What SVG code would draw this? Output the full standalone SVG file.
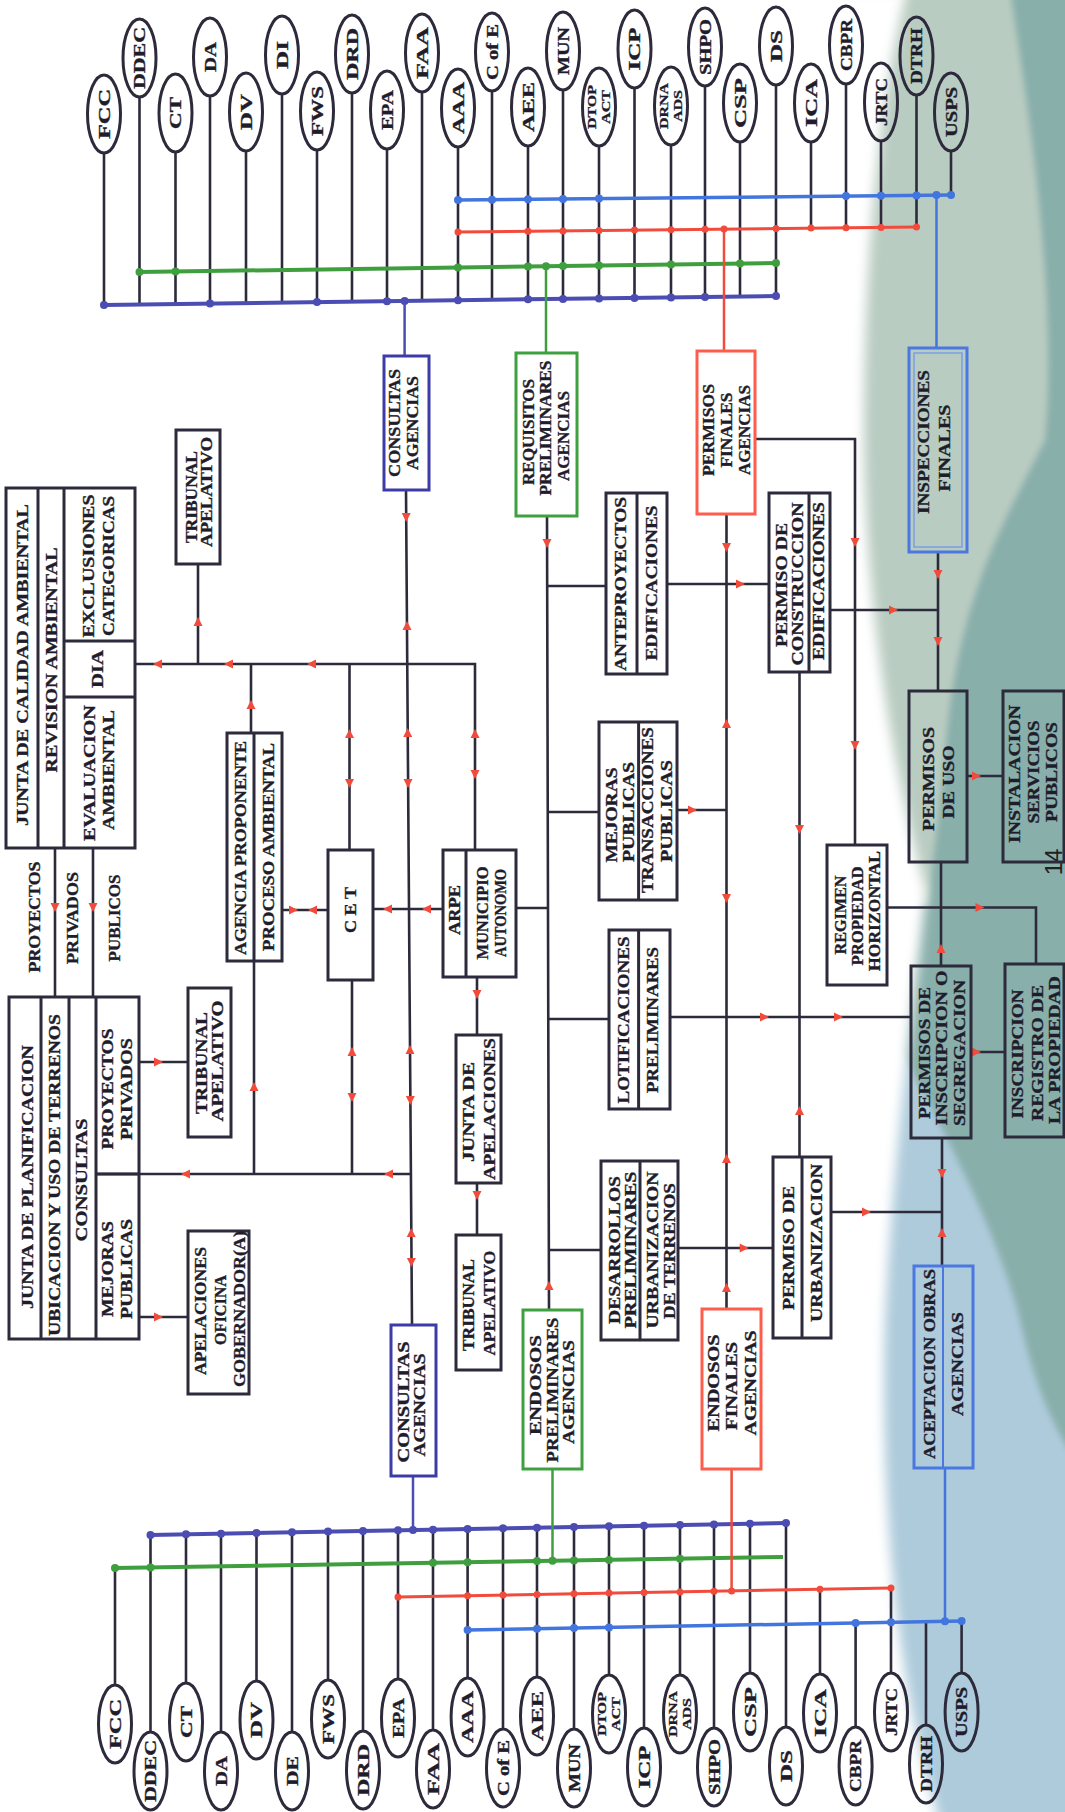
<svg xmlns="http://www.w3.org/2000/svg" xmlns:xlink="http://www.w3.org/1999/xlink" width="1065" height="1812" viewBox="0 0 1065 1812">
<style>
.bx{fill:none;stroke:#2d2b3b;stroke-width:3}
.ln{fill:none;stroke:#2d2b3b;stroke-width:2.6}
.el{fill:none;stroke:#2d2b3b;stroke-width:3}
.t{font-family:"Liberation Serif","DejaVu Serif",serif;font-weight:bold;font-size:16px;text-anchor:middle;fill:#1f1d2b;stroke:#1f1d2b;stroke-width:0.35}
.s{font-family:"Liberation Serif","DejaVu Serif",serif;font-weight:bold;font-size:13px;text-anchor:middle;fill:#1f1d2b;stroke:#1f1d2b;stroke-width:0.3}
.pu{fill:none;stroke:#4b4db3;stroke-width:4}
.gr{fill:none;stroke:#3f9f3f;stroke-width:4}
.rd{fill:none;stroke:#f24b3c;stroke-width:3}
.bl{fill:none;stroke:#4275dd;stroke-width:3.5}
.dpu{fill:#4b4db3}.dgr{fill:#3f9f3f}.drd{fill:#f24b3c}.dbl{fill:#4275dd}
.bpu{fill:none;stroke:#3c3ca8;stroke-width:3}
.bgr{fill:none;stroke:#3fa03f;stroke-width:3}
.brd{fill:none;stroke:#ff5c4c;stroke-width:3}
.bbl{fill:none;stroke:#4a78e0;stroke-width:3}
</style>
<defs>
<path id="ar" d="M5,0 L-4,-4.5 L-4,4.5 Z" fill="#f24b3c"/>
<filter id="soft" x="-0.1" y="-0.1" width="1.2" height="1.2"><feGaussianBlur stdDeviation="6"/></filter>
<filter id="soft2" x="-0.1" y="-0.1" width="1.2" height="1.2"><feGaussianBlur stdDeviation="3"/></filter>
</defs>
<g id="background">
<rect x="0" y="0" width="1065" height="1812" fill="#ffffff"/>
<rect x="840" y="0" width="225" height="1812" fill="#89afab"/>
<path d="M840,-10 L1010,-10 C1030,120 1058,300 1045,440 C1005,520 955,600 945,760 C938,820 932,870 928,905 L840,905 Z" fill="#b9ccc1" filter="url(#soft2)"/>
<path d="M840,1030 L900,1050 C950,1140 1000,1240 1020,1320 C1035,1385 1050,1420 1075,1460 L1075,1822 L840,1822 Z" fill="#aecbdb" filter="url(#soft2)"/>
<path d="M-10,-10 L907,-10 C880,100 864,250 864,430 C864,620 900,800 926,890 C915,1000 893,1150 885,1320 C880,1500 895,1680 940,1822 L-10,1822 Z" fill="#ffffff" filter="url(#soft)"/>
<text transform="translate(1062,862) rotate(-90)" font-family="Liberation Sans, Arial, sans-serif" font-size="24" text-anchor="middle" fill="#222">14</text>
</g>
<g id="connectors">
<path class="ln" d="M104,153V305 M139.5,97V304.5 M175.5,152V304 M210,96V303.6 M246,151V303.1 M282,94V302.6 M317,150V302.1 M352,93V301.7 M387,149V301.2 M422,92V300.7 M458,147V300.3 M492,91V299.8 M528,146V299.3 M563,90V298.9 M599,146V298.4 M634.5,88V297.9 M671,145V297.4 M705,86V297 M740,142V296.5 M776,85V296 M811,142V228.1 M846,84V227.8 M881,141V227.4 M916.5,95V227 M951,151V195"/>
<path class="ln" d="M115,1685V1568 M150.5,1732V1535 M186,1683V1534.3 M221,1732V1533.7 M256.5,1681V1533 M292,1732V1532.3 M328,1680V1531.6 M363,1731V1531 M398,1679V1530.3 M433,1730V1529.7 M467.6,1678V1529 M503,1729V1528.3 M537,1677V1527.7 M574,1729V1527 M609,1675V1526.3 M644,1728V1525.7 M680,1675V1525 M714,1728V1524.4 M750,1673V1523.7 M786,1727V1523 M820,1674V1589.3 M855.6,1727V1622.9 M891,1673V1588 M926,1725V1621.7 M961.6,1673V1621"/>
<path class="bl" d="M458,200 L951,195"/>
<path class="rd" d="M458,232 L916,227"/>
<path class="gr" d="M139.5,272 L776,263"/>
<path class="pu" d="M104,305 L776,296"/>
<path class="pu" d="M150.5,1535 L786,1523"/>
<path class="gr" d="M115,1568 L783,1557"/>
<path class="rd" d="M398,1597 L891,1588"/>
<path class="bl" d="M467.6,1630 L962,1621"/>
<path class="pu" d="M404.6,301V356" style="stroke-width:2.5"/>
<path class="gr" d="M546,266V353" style="stroke-width:2.5"/>
<path class="rd" d="M724,229V351" style="stroke-width:2.5"/>
<path class="bl" d="M936.5,195V348" style="stroke-width:2.5"/>
<path class="pu" d="M413,1476V1530" style="stroke-width:2.5"/>
<path class="gr" d="M552.5,1469V1561" style="stroke-width:2.5"/>
<path class="rd" d="M731.6,1469V1591" style="stroke-width:2.5"/>
<path class="bl" d="M945,1468V1621" style="stroke-width:2.5"/>
<g class="dpu">
<circle cx="104" cy="305" r="4"/><circle cx="210" cy="303.6" r="4"/><circle cx="317" cy="302.1" r="4"/><circle cx="387" cy="301.2" r="4"/><circle cx="404.6" cy="301" r="4"/><circle cx="458" cy="300.3" r="4"/><circle cx="528" cy="299.3" r="4"/><circle cx="563" cy="298.9" r="4"/><circle cx="599" cy="298.4" r="4"/><circle cx="634.5" cy="297.9" r="4"/><circle cx="671" cy="297.4" r="4"/><circle cx="705" cy="297" r="4"/><circle cx="776" cy="296" r="4"/>
<circle cx="150.5" cy="1535" r="4"/><circle cx="186" cy="1534.3" r="4"/><circle cx="221" cy="1533.7" r="4"/><circle cx="256.5" cy="1533" r="4"/><circle cx="292" cy="1532.3" r="4"/><circle cx="328" cy="1531.6" r="4"/><circle cx="363" cy="1531" r="4"/><circle cx="398" cy="1530.3" r="4"/><circle cx="413" cy="1530" r="4"/><circle cx="433" cy="1529.7" r="4"/><circle cx="467.6" cy="1529" r="4"/><circle cx="503" cy="1528.3" r="4"/><circle cx="537" cy="1527.7" r="4"/><circle cx="574" cy="1527" r="4"/><circle cx="609" cy="1526.3" r="4"/><circle cx="644" cy="1525.7" r="4"/><circle cx="680" cy="1525" r="4"/><circle cx="714" cy="1524.4" r="4"/><circle cx="750" cy="1523.7" r="4"/><circle cx="786" cy="1523" r="4"/>
</g>
<g class="dgr">
<circle cx="139.5" cy="272" r="4"/><circle cx="175.5" cy="271.5" r="4"/><circle cx="458" cy="267.5" r="4"/><circle cx="528" cy="266.5" r="4"/><circle cx="546" cy="266.2" r="4"/><circle cx="563" cy="266" r="4"/><circle cx="599" cy="265.5" r="4"/><circle cx="671" cy="264.5" r="4"/><circle cx="740" cy="263.5" r="4"/><circle cx="776" cy="263" r="4"/>
<circle cx="115" cy="1568" r="4"/><circle cx="150.5" cy="1567.4" r="4"/><circle cx="433" cy="1562.8" r="4"/><circle cx="467.6" cy="1562.2" r="4"/><circle cx="537" cy="1561.1" r="4"/><circle cx="552.5" cy="1560.8" r="4"/><circle cx="574" cy="1560.5" r="4"/><circle cx="609" cy="1559.9" r="4"/><circle cx="680" cy="1558.8" r="4"/>
</g>
<g class="drd">
<circle cx="458" cy="232" r="3.5"/><circle cx="528" cy="231.2" r="3.5"/><circle cx="563" cy="230.9" r="3.5"/><circle cx="599" cy="230.5" r="3.5"/><circle cx="634.5" cy="230.1" r="3.5"/><circle cx="671" cy="229.7" r="3.5"/><circle cx="705" cy="229.3" r="3.5"/><circle cx="724" cy="229.1" r="3.5"/><circle cx="776" cy="228.5" r="3.5"/><circle cx="811" cy="228.1" r="3.5"/><circle cx="846" cy="227.8" r="3.5"/><circle cx="881" cy="227.4" r="3.5"/><circle cx="916.5" cy="227" r="3.5"/>
<circle cx="398" cy="1597" r="3.5"/><circle cx="467.6" cy="1595.7" r="3.5"/><circle cx="503" cy="1595.1" r="3.5"/><circle cx="537" cy="1594.5" r="3.5"/><circle cx="574" cy="1593.8" r="3.5"/><circle cx="609" cy="1593.1" r="3.5"/><circle cx="644" cy="1592.5" r="3.5"/><circle cx="680" cy="1591.9" r="3.5"/><circle cx="714" cy="1591.2" r="3.5"/><circle cx="731.6" cy="1590.9" r="3.5"/><circle cx="820" cy="1589.3" r="3.5"/><circle cx="891" cy="1588" r="3.5"/>
</g>
<g class="dbl">
<circle cx="458" cy="200" r="4"/><circle cx="492" cy="199.7" r="4"/><circle cx="528" cy="199.3" r="4"/><circle cx="563" cy="198.9" r="4"/><circle cx="599" cy="198.6" r="4"/><circle cx="846" cy="196.1" r="4"/><circle cx="881" cy="195.7" r="4"/><circle cx="916.5" cy="195.4" r="4"/><circle cx="936.5" cy="195.1" r="4"/><circle cx="951" cy="195" r="4"/>
<circle cx="467.6" cy="1630" r="4"/><circle cx="537" cy="1628.7" r="4"/><circle cx="574" cy="1628.1" r="4"/><circle cx="609" cy="1627.4" r="4"/><circle cx="855.6" cy="1622.9" r="4"/><circle cx="891" cy="1622.3" r="4"/><circle cx="945" cy="1621.3" r="4"/><circle cx="961.6" cy="1621" r="4"/>
</g>
<path class="ln" d="M135,664H475V850 M198,564V664 M251,664V733 M349.5,664V850 M406,490L412,1325 M55,848V997 M93,848V997 M282,910H328 M373,909H443 M516,908H548 M139,1062H188 M139,1317H188 M96,1174H411 M254,961V1174 M352,980V1174 M477,977V1035 M477,1183V1235"/>
<path class="ln" d="M547,516L549,1310 M547,586H606 M547,812H599 M548,1019H609 M548,1250H601 M726.5,514V1309 M667,584H769 M830,610H938 M755,439H855V845 M799.5,672V1157 M677,810H726.5 M938,552V691 M967,776H1003 M941,862V966 M887,907.5H1036V964 M670,1017H911 M971,1052H1005 M942,1138V1266 M831,1212H942 M678,1248H773"/>
<use xlink:href="#ar" transform="translate(158,664) rotate(180)"/>
<use xlink:href="#ar" transform="translate(229,664) rotate(180)"/>
<use xlink:href="#ar" transform="translate(312,664) rotate(180)"/>
<use xlink:href="#ar" transform="translate(198,622) rotate(270)"/>
<use xlink:href="#ar" transform="translate(251,705) rotate(270)"/>
<use xlink:href="#ar" transform="translate(349.5,734) rotate(270)"/>
<use xlink:href="#ar" transform="translate(349.5,783) rotate(90)"/>
<use xlink:href="#ar" transform="translate(406.2,517) rotate(90)"/>
<use xlink:href="#ar" transform="translate(407,626) rotate(270)"/>
<use xlink:href="#ar" transform="translate(407.7,733) rotate(270)"/>
<use xlink:href="#ar" transform="translate(408,783) rotate(90)"/>
<use xlink:href="#ar" transform="translate(410,1050) rotate(270)"/>
<use xlink:href="#ar" transform="translate(410.3,1100) rotate(90)"/>
<use xlink:href="#ar" transform="translate(411.2,1233) rotate(270)"/>
<use xlink:href="#ar" transform="translate(411.4,1262) rotate(90)"/>
<use xlink:href="#ar" transform="translate(475,734) rotate(270)"/>
<use xlink:href="#ar" transform="translate(475,774) rotate(90)"/>
<use xlink:href="#ar" transform="translate(55,907) rotate(90)"/>
<use xlink:href="#ar" transform="translate(93,907) rotate(90)"/>
<use xlink:href="#ar" transform="translate(293,910)"/>
<use xlink:href="#ar" transform="translate(313,910) rotate(180)"/>
<use xlink:href="#ar" transform="translate(388,909) rotate(180)"/>
<use xlink:href="#ar" transform="translate(427,909) rotate(180)"/>
<use xlink:href="#ar" transform="translate(158,1062)"/>
<use xlink:href="#ar" transform="translate(158,1317)"/>
<use xlink:href="#ar" transform="translate(186,1174) rotate(180)"/>
<use xlink:href="#ar" transform="translate(389,1174) rotate(180)"/>
<use xlink:href="#ar" transform="translate(254,1087) rotate(270)"/>
<use xlink:href="#ar" transform="translate(352,1052) rotate(270)"/>
<use xlink:href="#ar" transform="translate(352,1097) rotate(90)"/>
<use xlink:href="#ar" transform="translate(477,994) rotate(90)"/>
<use xlink:href="#ar" transform="translate(477,1195) rotate(90)"/>
<use xlink:href="#ar" transform="translate(547,543) rotate(90)"/>
<use xlink:href="#ar" transform="translate(549,1286) rotate(270)"/>
<use xlink:href="#ar" transform="translate(726.5,547) rotate(90)"/>
<use xlink:href="#ar" transform="translate(726.5,724) rotate(270)"/>
<use xlink:href="#ar" transform="translate(726.5,898) rotate(90)"/>
<use xlink:href="#ar" transform="translate(726.5,1159) rotate(270)"/>
<use xlink:href="#ar" transform="translate(726.5,1288) rotate(270)"/>
<use xlink:href="#ar" transform="translate(740,584)"/>
<use xlink:href="#ar" transform="translate(893,610)"/>
<use xlink:href="#ar" transform="translate(855,542) rotate(90)"/>
<use xlink:href="#ar" transform="translate(855,745) rotate(90)"/>
<use xlink:href="#ar" transform="translate(799.5,829) rotate(90)"/>
<use xlink:href="#ar" transform="translate(799.5,1111) rotate(270)"/>
<use xlink:href="#ar" transform="translate(692,810)"/>
<use xlink:href="#ar" transform="translate(938,574) rotate(90)"/>
<use xlink:href="#ar" transform="translate(938,641) rotate(90)"/>
<use xlink:href="#ar" transform="translate(976,776)"/>
<use xlink:href="#ar" transform="translate(941,949) rotate(270)"/>
<use xlink:href="#ar" transform="translate(979.5,907.5)"/>
<use xlink:href="#ar" transform="translate(764,1017)"/>
<use xlink:href="#ar" transform="translate(838,1017)"/>
<use xlink:href="#ar" transform="translate(976,1052)"/>
<use xlink:href="#ar" transform="translate(942,1173) rotate(90)"/>
<use xlink:href="#ar" transform="translate(942,1233) rotate(270)"/>
<use xlink:href="#ar" transform="translate(866,1212)"/>
<use xlink:href="#ar" transform="translate(743.7,1248)"/>
</g>
<g id="agencies-top">
<g id="t-FCC"><ellipse class="el" cx="104" cy="114" rx="16.5" ry="39"/><text class="t" transform="translate(109.5,114) rotate(-90)" textLength="50" lengthAdjust="spacingAndGlyphs">FCC</text></g>
<g id="t-DDEC"><ellipse class="el" cx="139.5" cy="58" rx="16.5" ry="39"/><text class="t" transform="translate(145,58) rotate(-90)" textLength="62" lengthAdjust="spacingAndGlyphs">DDEC</text></g>
<g id="t-CT"><ellipse class="el" cx="175.5" cy="113" rx="16.5" ry="39"/><text class="t" transform="translate(181,113) rotate(-90)" textLength="32" lengthAdjust="spacingAndGlyphs">CT</text></g>
<g id="t-DA"><ellipse class="el" cx="210" cy="57" rx="16.5" ry="39"/><text class="t" transform="translate(215.5,57) rotate(-90)" textLength="30" lengthAdjust="spacingAndGlyphs">DA</text></g>
<g id="t-DV"><ellipse class="el" cx="246" cy="112" rx="16.5" ry="39"/><text class="t" transform="translate(251.5,112) rotate(-90)" textLength="36" lengthAdjust="spacingAndGlyphs">DV</text></g>
<g id="t-DI"><ellipse class="el" cx="282" cy="55" rx="16.5" ry="39"/><text class="t" transform="translate(287.5,55) rotate(-90)" textLength="28" lengthAdjust="spacingAndGlyphs">DI</text></g>
<g id="t-FWS"><ellipse class="el" cx="317" cy="111" rx="16.5" ry="39"/><text class="t" transform="translate(322.5,111) rotate(-90)" textLength="50" lengthAdjust="spacingAndGlyphs">FWS</text></g>
<g id="t-DRD"><ellipse class="el" cx="352" cy="54" rx="16.5" ry="39"/><text class="t" transform="translate(357.5,54) rotate(-90)" textLength="52" lengthAdjust="spacingAndGlyphs">DRD</text></g>
<g id="t-EPA"><ellipse class="el" cx="387" cy="110" rx="16.5" ry="39"/><text class="t" transform="translate(392.5,110) rotate(-90)" textLength="40" lengthAdjust="spacingAndGlyphs">EPA</text></g>
<g id="t-FAA"><ellipse class="el" cx="422" cy="53" rx="16.5" ry="39"/><text class="t" transform="translate(427.5,53) rotate(-90)" textLength="52" lengthAdjust="spacingAndGlyphs">FAA</text></g>
<g id="t-AAA"><ellipse class="el" cx="458" cy="108" rx="16.5" ry="39"/><text class="t" transform="translate(463.5,108) rotate(-90)" textLength="52" lengthAdjust="spacingAndGlyphs">AAA</text></g>
<g id="t-CofE"><ellipse class="el" cx="492" cy="52" rx="16.5" ry="39"/><text class="t" transform="translate(497.5,52) rotate(-90)" textLength="56" lengthAdjust="spacingAndGlyphs">C of E</text></g>
<g id="t-AEE"><ellipse class="el" cx="528" cy="107" rx="16.5" ry="39"/><text class="t" transform="translate(533.5,107) rotate(-90)" textLength="50" lengthAdjust="spacingAndGlyphs">AEE</text></g>
<g id="t-MUN"><ellipse class="el" cx="563" cy="51" rx="16.5" ry="39"/><text class="t" transform="translate(568.5,51) rotate(-90)" textLength="48" lengthAdjust="spacingAndGlyphs">MUN</text></g>
<g id="t-DTOP"><ellipse class="el" cx="599" cy="107" rx="16.5" ry="39"/><text class="s" transform="translate(596,107) rotate(-90)" textLength="44" lengthAdjust="spacingAndGlyphs">DTOP</text><text class="s" transform="translate(610,107) rotate(-90)" textLength="34" lengthAdjust="spacingAndGlyphs">ACT</text></g>
<g id="t-ICP"><ellipse class="el" cx="634.5" cy="49" rx="16.5" ry="39"/><text class="t" transform="translate(640,49) rotate(-90)" textLength="43" lengthAdjust="spacingAndGlyphs">ICP</text></g>
<g id="t-DRNA"><ellipse class="el" cx="671" cy="106" rx="16.5" ry="39"/><text class="s" transform="translate(668,106) rotate(-90)" textLength="46" lengthAdjust="spacingAndGlyphs">DRNA</text><text class="s" transform="translate(682,106) rotate(-90)" textLength="32" lengthAdjust="spacingAndGlyphs">ADS</text></g>
<g id="t-SHPO"><ellipse class="el" cx="705" cy="47" rx="16.5" ry="39"/><text class="t" transform="translate(710.5,47) rotate(-90)" textLength="56" lengthAdjust="spacingAndGlyphs">SHPO</text></g>
<g id="t-CSP"><ellipse class="el" cx="740" cy="103" rx="16.5" ry="39"/><text class="t" transform="translate(745.5,103) rotate(-90)" textLength="50" lengthAdjust="spacingAndGlyphs">CSP</text></g>
<g id="t-DS"><ellipse class="el" cx="776" cy="46" rx="16.5" ry="39"/><text class="t" transform="translate(781.5,46) rotate(-90)" textLength="32" lengthAdjust="spacingAndGlyphs">DS</text></g>
<g id="t-ICA"><ellipse class="el" cx="811" cy="103" rx="16.5" ry="39"/><text class="t" transform="translate(816.5,103) rotate(-90)" textLength="48" lengthAdjust="spacingAndGlyphs">ICA</text></g>
<g id="t-CBPR"><ellipse class="el" cx="846" cy="45" rx="16.5" ry="39"/><text class="t" transform="translate(851.5,45) rotate(-90)" textLength="52" lengthAdjust="spacingAndGlyphs">CBPR</text></g>
<g id="t-JRTC"><ellipse class="el" cx="881" cy="102" rx="16.5" ry="39"/><text class="t" transform="translate(886.5,102) rotate(-90)" textLength="48" lengthAdjust="spacingAndGlyphs">JRTC</text></g>
<g id="t-DTRH"><ellipse class="el" cx="916.5" cy="56" rx="16.5" ry="39"/><text class="t" transform="translate(922,56) rotate(-90)" textLength="56" lengthAdjust="spacingAndGlyphs">DTRH</text></g>
<g id="t-USPS"><ellipse class="el" cx="951" cy="112" rx="16.5" ry="39"/><text class="t" transform="translate(956.5,112) rotate(-90)" textLength="50" lengthAdjust="spacingAndGlyphs">USPS</text></g>
</g>
<g id="agencies-bottom">
<g id="b-FCC"><ellipse class="el" cx="115" cy="1724" rx="16.5" ry="39"/><text class="t" transform="translate(120.5,1724) rotate(-90)" textLength="50" lengthAdjust="spacingAndGlyphs">FCC</text></g>
<g id="b-DDEC"><ellipse class="el" cx="150.5" cy="1771" rx="16.5" ry="39"/><text class="t" transform="translate(156,1771) rotate(-90)" textLength="62" lengthAdjust="spacingAndGlyphs">DDEC</text></g>
<g id="b-CT"><ellipse class="el" cx="186" cy="1722" rx="16.5" ry="39"/><text class="t" transform="translate(191.5,1722) rotate(-90)" textLength="32" lengthAdjust="spacingAndGlyphs">CT</text></g>
<g id="b-DA"><ellipse class="el" cx="221" cy="1771" rx="16.5" ry="39"/><text class="t" transform="translate(226.5,1771) rotate(-90)" textLength="30" lengthAdjust="spacingAndGlyphs">DA</text></g>
<g id="b-DV"><ellipse class="el" cx="256.5" cy="1720" rx="16.5" ry="39"/><text class="t" transform="translate(262,1720) rotate(-90)" textLength="36" lengthAdjust="spacingAndGlyphs">DV</text></g>
<g id="b-DE"><ellipse class="el" cx="292" cy="1771" rx="16.5" ry="39"/><text class="t" transform="translate(297.5,1771) rotate(-90)" textLength="30" lengthAdjust="spacingAndGlyphs">DE</text></g>
<g id="b-FWS"><ellipse class="el" cx="328" cy="1719" rx="16.5" ry="39"/><text class="t" transform="translate(333.5,1719) rotate(-90)" textLength="50" lengthAdjust="spacingAndGlyphs">FWS</text></g>
<g id="b-DRD"><ellipse class="el" cx="363" cy="1770" rx="16.5" ry="39"/><text class="t" transform="translate(368.5,1770) rotate(-90)" textLength="52" lengthAdjust="spacingAndGlyphs">DRD</text></g>
<g id="b-EPA"><ellipse class="el" cx="398" cy="1718" rx="16.5" ry="39"/><text class="t" transform="translate(403.5,1718) rotate(-90)" textLength="40" lengthAdjust="spacingAndGlyphs">EPA</text></g>
<g id="b-FAA"><ellipse class="el" cx="433" cy="1769" rx="16.5" ry="39"/><text class="t" transform="translate(438.5,1769) rotate(-90)" textLength="52" lengthAdjust="spacingAndGlyphs">FAA</text></g>
<g id="b-AAA"><ellipse class="el" cx="467.6" cy="1717" rx="16.5" ry="39"/><text class="t" transform="translate(473,1717) rotate(-90)" textLength="52" lengthAdjust="spacingAndGlyphs">AAA</text></g>
<g id="b-CofE"><ellipse class="el" cx="503" cy="1768" rx="16.5" ry="39"/><text class="t" transform="translate(508.5,1768) rotate(-90)" textLength="56" lengthAdjust="spacingAndGlyphs">C of E</text></g>
<g id="b-AEE"><ellipse class="el" cx="537" cy="1716" rx="16.5" ry="39"/><text class="t" transform="translate(542.5,1716) rotate(-90)" textLength="50" lengthAdjust="spacingAndGlyphs">AEE</text></g>
<g id="b-MUN"><ellipse class="el" cx="574" cy="1768" rx="16.5" ry="39"/><text class="t" transform="translate(579.5,1768) rotate(-90)" textLength="48" lengthAdjust="spacingAndGlyphs">MUN</text></g>
<g id="b-DTOP"><ellipse class="el" cx="609" cy="1714" rx="16.5" ry="39"/><text class="s" transform="translate(606,1714) rotate(-90)" textLength="44" lengthAdjust="spacingAndGlyphs">DTOP</text><text class="s" transform="translate(620,1714) rotate(-90)" textLength="34" lengthAdjust="spacingAndGlyphs">ACT</text></g>
<g id="b-ICP"><ellipse class="el" cx="644" cy="1767" rx="16.5" ry="39"/><text class="t" transform="translate(649.5,1767) rotate(-90)" textLength="43" lengthAdjust="spacingAndGlyphs">ICP</text></g>
<g id="b-DRNA"><ellipse class="el" cx="680" cy="1714" rx="16.5" ry="39"/><text class="s" transform="translate(677,1714) rotate(-90)" textLength="46" lengthAdjust="spacingAndGlyphs">DRNA</text><text class="s" transform="translate(691,1714) rotate(-90)" textLength="32" lengthAdjust="spacingAndGlyphs">ADS</text></g>
<g id="b-SHPO"><ellipse class="el" cx="714" cy="1767" rx="16.5" ry="39"/><text class="t" transform="translate(719.5,1767) rotate(-90)" textLength="56" lengthAdjust="spacingAndGlyphs">SHPO</text></g>
<g id="b-CSP"><ellipse class="el" cx="750" cy="1712" rx="16.5" ry="39"/><text class="t" transform="translate(755.5,1712) rotate(-90)" textLength="50" lengthAdjust="spacingAndGlyphs">CSP</text></g>
<g id="b-DS"><ellipse class="el" cx="786" cy="1766" rx="16.5" ry="39"/><text class="t" transform="translate(791.5,1766) rotate(-90)" textLength="32" lengthAdjust="spacingAndGlyphs">DS</text></g>
<g id="b-ICA"><ellipse class="el" cx="820" cy="1713" rx="16.5" ry="39"/><text class="t" transform="translate(825.5,1713) rotate(-90)" textLength="48" lengthAdjust="spacingAndGlyphs">ICA</text></g>
<g id="b-CBPR"><ellipse class="el" cx="855.6" cy="1766" rx="16.5" ry="39"/><text class="t" transform="translate(861,1766) rotate(-90)" textLength="52" lengthAdjust="spacingAndGlyphs">CBPR</text></g>
<g id="b-JRTC"><ellipse class="el" cx="891" cy="1712" rx="16.5" ry="39"/><text class="t" transform="translate(896.5,1712) rotate(-90)" textLength="48" lengthAdjust="spacingAndGlyphs">JRTC</text></g>
<g id="b-DTRH"><ellipse class="el" cx="926" cy="1764" rx="16.5" ry="39"/><text class="t" transform="translate(931.5,1764) rotate(-90)" textLength="56" lengthAdjust="spacingAndGlyphs">DTRH</text></g>
<g id="b-USPS"><ellipse class="el" cx="961.6" cy="1712" rx="16.5" ry="39"/><text class="t" transform="translate(967,1712) rotate(-90)" textLength="50" lengthAdjust="spacingAndGlyphs">USPS</text></g>
</g>
<g id="labels-proyectos">
<text class="t" transform="translate(39.5,917) rotate(-90)" textLength="111" lengthAdjust="spacingAndGlyphs">PROYECTOS</text>
<text class="t" transform="translate(77.5,918) rotate(-90)" textLength="92" lengthAdjust="spacingAndGlyphs">PRIVADOS</text>
<text class="t" transform="translate(119.5,918) rotate(-90)" textLength="87" lengthAdjust="spacingAndGlyphs">PUBLICOS</text>
</g>
<g id="n-jca">
<rect class="bx" x="6" y="488" width="129" height="360"/>
<path class="bx" d="M38,488V848 M64,488V848 M64,641H135 M64,697H135"/>
<text class="t" transform="translate(27.5,665) rotate(-90)" textLength="322" lengthAdjust="spacingAndGlyphs">JUNTA DE CALIDAD AMBIENTAL</text>
<text class="t" transform="translate(56.5,660) rotate(-90)" textLength="225" lengthAdjust="spacingAndGlyphs">REVISION AMBIENTAL</text>
<text class="t" transform="translate(93.5,566) rotate(-90)" textLength="143" lengthAdjust="spacingAndGlyphs">EXCLUSIONES</text>
<text class="t" transform="translate(114,566) rotate(-90)" textLength="140" lengthAdjust="spacingAndGlyphs">CATEGORICAS</text>
<text class="t" transform="translate(102.5,669) rotate(-90)" textLength="38" lengthAdjust="spacingAndGlyphs">DIA</text>
<text class="t" transform="translate(95,773) rotate(-90)" textLength="136" lengthAdjust="spacingAndGlyphs">EVALUACION</text>
<text class="t" transform="translate(114,770) rotate(-90)" textLength="120" lengthAdjust="spacingAndGlyphs">AMBIENTAL</text>
</g>
<g id="n-trib1">
<rect class="bx" x="176" y="430" width="44" height="134"/>
<text class="t" transform="translate(196.5,497) rotate(-90)" textLength="92" lengthAdjust="spacingAndGlyphs">TRIBUNAL</text>
<text class="t" transform="translate(212,492) rotate(-90)" textLength="110" lengthAdjust="spacingAndGlyphs">APELATIVO</text>
</g>
<g id="n-agencia">
<rect class="bx" x="227" y="733" width="55" height="228"/>
<path class="bx" d="M254,733V961"/>
<text class="t" transform="translate(246,848) rotate(-90)" textLength="214" lengthAdjust="spacingAndGlyphs">AGENCIA PROPONENTE</text>
<text class="t" transform="translate(273.5,847) rotate(-90)" textLength="208" lengthAdjust="spacingAndGlyphs">PROCESO AMBIENTAL</text>
</g>
<g id="n-cet">
<rect class="bx" x="328" y="850" width="45" height="130"/>
<text class="t" transform="translate(356,910) rotate(-90)" textLength="46" lengthAdjust="spacingAndGlyphs">C E T</text>
</g>
<g id="n-arpe">
<rect class="bx" x="443" y="850" width="73" height="127"/>
<path class="bx" d="M466,850V977"/>
<text class="t" transform="translate(460,910) rotate(-90)" textLength="50" lengthAdjust="spacingAndGlyphs">ARPE</text>
<text class="t" transform="translate(487.5,913) rotate(-90)" textLength="93" lengthAdjust="spacingAndGlyphs">MUNICIPIO</text>
<text class="t" transform="translate(505.5,913) rotate(-90)" textLength="88" lengthAdjust="spacingAndGlyphs">AUTONOMO</text>
</g>
<g id="n-jp">
<rect class="bx" x="9" y="997" width="130" height="342"/>
<path class="bx" d="M41,997V1339 M69,997V1339 M96,997V1339 M96,1174H139"/>
<text class="t" transform="translate(32.5,1177) rotate(-90)" textLength="264" lengthAdjust="spacingAndGlyphs">JUNTA DE PLANIFICACION</text>
<text class="t" transform="translate(59.5,1175) rotate(-90)" textLength="322" lengthAdjust="spacingAndGlyphs">UBICACION Y USO DE TERRENOS</text>
<text class="t" transform="translate(86.5,1180) rotate(-90)" textLength="123" lengthAdjust="spacingAndGlyphs">CONSULTAS</text>
<text class="t" transform="translate(112.5,1089) rotate(-90)" textLength="121" lengthAdjust="spacingAndGlyphs">PROYECTOS</text>
<text class="t" transform="translate(131.5,1089) rotate(-90)" textLength="102" lengthAdjust="spacingAndGlyphs">PRIVADOS</text>
<text class="t" transform="translate(112.5,1269) rotate(-90)" textLength="96" lengthAdjust="spacingAndGlyphs">MEJORAS</text>
<text class="t" transform="translate(131.5,1269) rotate(-90)" textLength="100" lengthAdjust="spacingAndGlyphs">PUBLICAS</text>
</g>
<g id="n-trib2">
<rect class="bx" x="188" y="988" width="43" height="149"/>
<text class="t" transform="translate(206.5,1063) rotate(-90)" textLength="102" lengthAdjust="spacingAndGlyphs">TRIBUNAL</text>
<text class="t" transform="translate(222.5,1061) rotate(-90)" textLength="121" lengthAdjust="spacingAndGlyphs">APELATIVO</text>
</g>
<g id="n-apelaciones">
<rect class="bx" x="188" y="1231" width="61" height="163"/>
<text class="t" transform="translate(205.5,1311) rotate(-90)" textLength="128" lengthAdjust="spacingAndGlyphs">APELACIONES</text>
<text class="t" transform="translate(225.5,1310) rotate(-90)" textLength="70" lengthAdjust="spacingAndGlyphs">OFICINA</text>
<text class="t" transform="translate(245,1309) rotate(-90)" textLength="156" lengthAdjust="spacingAndGlyphs">GOBERNADOR(A)</text>
</g>
<g id="n-consultas1">
<rect class="bpu" x="384" y="356" width="45" height="134"/>
<text class="t" transform="translate(399.5,423) rotate(-90)" textLength="108" lengthAdjust="spacingAndGlyphs">CONSULTAS</text>
<text class="t" transform="translate(417.5,423) rotate(-90)" textLength="94" lengthAdjust="spacingAndGlyphs">AGENCIAS</text>
</g>
<g id="n-consultas2">
<rect class="bpu" x="391" y="1325" width="45" height="151"/>
<text class="t" transform="translate(408.5,1402) rotate(-90)" textLength="121" lengthAdjust="spacingAndGlyphs">CONSULTAS</text>
<text class="t" transform="translate(424.5,1405) rotate(-90)" textLength="103" lengthAdjust="spacingAndGlyphs">AGENCIAS</text>
</g>
<g id="n-juntaapel">
<rect class="bx" x="456" y="1035" width="45" height="148"/>
<text class="t" transform="translate(473.5,1112) rotate(-90)" textLength="100" lengthAdjust="spacingAndGlyphs">JUNTA DE</text>
<text class="t" transform="translate(494.5,1109) rotate(-90)" textLength="142" lengthAdjust="spacingAndGlyphs">APELACIONES</text>
</g>
<g id="n-trib3">
<rect class="bx" x="456" y="1235" width="45" height="135"/>
<text class="t" transform="translate(473.5,1305) rotate(-90)" textLength="92" lengthAdjust="spacingAndGlyphs">TRIBUNAL</text>
<text class="t" transform="translate(494.5,1303) rotate(-90)" textLength="105" lengthAdjust="spacingAndGlyphs">APELATIVO</text>
</g>
<g id="n-requisitos">
<rect class="bgr" x="516" y="353" width="61" height="163"/>
<text class="t" transform="translate(533.5,432) rotate(-90)" textLength="106" lengthAdjust="spacingAndGlyphs">REQUISITOS</text>
<text class="t" transform="translate(550.5,428) rotate(-90)" textLength="135" lengthAdjust="spacingAndGlyphs">PRELIMINARES</text>
<text class="t" transform="translate(568.5,436) rotate(-90)" textLength="90" lengthAdjust="spacingAndGlyphs">AGENCIAS</text>
</g>
<g id="n-permfinales">
<rect class="brd" x="697" y="351" width="58" height="163"/>
<text class="t" transform="translate(713.5,430) rotate(-90)" textLength="92" lengthAdjust="spacingAndGlyphs">PERMISOS</text>
<text class="t" transform="translate(731.5,430) rotate(-90)" textLength="75" lengthAdjust="spacingAndGlyphs">FINALES</text>
<text class="t" transform="translate(749.5,430) rotate(-90)" textLength="90" lengthAdjust="spacingAndGlyphs">AGENCIAS</text>
</g>
<g id="n-inspecciones">
<rect class="bbl" x="909" y="348" width="58" height="204"/>
<rect x="914" y="353" width="48" height="194" fill="none" stroke="#7b9fe6" stroke-width="1.5"/>
<text class="t" transform="translate(928.5,442) rotate(-90)" textLength="144" lengthAdjust="spacingAndGlyphs">INSPECCIONES</text>
<text class="t" transform="translate(949.5,448) rotate(-90)" textLength="87" lengthAdjust="spacingAndGlyphs">FINALES</text>
</g>
<g id="n-anteproyectos">
<rect class="bx" x="606" y="493" width="61" height="181"/>
<path class="bx" d="M637,493V674"/>
<text class="t" transform="translate(625.5,584) rotate(-90)" textLength="174" lengthAdjust="spacingAndGlyphs">ANTEPROYECTOS</text>
<text class="t" transform="translate(656.5,583) rotate(-90)" textLength="155" lengthAdjust="spacingAndGlyphs">EDIFICACIONES</text>
</g>
<g id="n-permconst">
<rect class="bx" x="769" y="493" width="61" height="179"/>
<path class="bx" d="M809,493V672"/>
<text class="t" transform="translate(787,585) rotate(-90)" textLength="124" lengthAdjust="spacingAndGlyphs">PERMISO DE</text>
<text class="t" transform="translate(802.5,584) rotate(-90)" textLength="163" lengthAdjust="spacingAndGlyphs">CONSTRUCCION</text>
<text class="t" transform="translate(823.5,581) rotate(-90)" textLength="158" lengthAdjust="spacingAndGlyphs">EDIFICACIONES</text>
</g>
<g id="n-mejoras">
<rect class="bx" x="599" y="722" width="78" height="178"/>
<path class="bx" d="M638.6,722V900"/>
<text class="t" transform="translate(616.5,815) rotate(-90)" textLength="95" lengthAdjust="spacingAndGlyphs">MEJORAS</text>
<text class="t" transform="translate(633.5,812) rotate(-90)" textLength="100" lengthAdjust="spacingAndGlyphs">PUBLICAS</text>
<text class="t" transform="translate(652.5,810) rotate(-90)" textLength="166" lengthAdjust="spacingAndGlyphs">TRANSACCIONES</text>
<text class="t" transform="translate(671.5,811) rotate(-90)" textLength="102" lengthAdjust="spacingAndGlyphs">PUBLICAS</text>
</g>
<g id="n-regimen">
<rect class="bx" x="827" y="845" width="60" height="140"/>
<text class="t" transform="translate(845.5,915) rotate(-90)" textLength="79" lengthAdjust="spacingAndGlyphs">REGIMEN</text>
<text class="t" transform="translate(862.5,916) rotate(-90)" textLength="99" lengthAdjust="spacingAndGlyphs">PROPIEDAD</text>
<text class="t" transform="translate(880,911) rotate(-90)" textLength="120" lengthAdjust="spacingAndGlyphs">HORIZONTAL</text>
</g>
<g id="n-permuso">
<rect class="bx" x="909" y="691" width="58" height="171"/>
<text class="t" transform="translate(933.5,779) rotate(-90)" textLength="104" lengthAdjust="spacingAndGlyphs">PERMISOS</text>
<text class="t" transform="translate(954,782) rotate(-90)" textLength="73" lengthAdjust="spacingAndGlyphs">DE USO</text>
</g>
<g id="n-instalacion">
<rect class="bx" x="1003" y="691" width="61" height="171"/>
<text class="t" transform="translate(1019.5,774) rotate(-90)" textLength="138" lengthAdjust="spacingAndGlyphs">INSTALACION</text>
<text class="t" transform="translate(1038.5,772) rotate(-90)" textLength="103" lengthAdjust="spacingAndGlyphs">SERVICIOS</text>
<text class="t" transform="translate(1057,772) rotate(-90)" textLength="100" lengthAdjust="spacingAndGlyphs">PUBLICOS</text>
</g>
<g id="n-lotificaciones">
<rect class="bx" x="609" y="930" width="61" height="179"/>
<path class="bx" d="M638.6,930V1109"/>
<text class="t" transform="translate(628.5,1020) rotate(-90)" textLength="167" lengthAdjust="spacingAndGlyphs">LOTIFICACIONES</text>
<text class="t" transform="translate(657.5,1020) rotate(-90)" textLength="146" lengthAdjust="spacingAndGlyphs">PRELIMINARES</text>
</g>
<g id="n-perminscripcion">
<rect class="bx" x="911" y="966" width="60" height="172"/>
<text class="t" transform="translate(929.5,1053) rotate(-90)" textLength="132" lengthAdjust="spacingAndGlyphs">PERMISOS DE</text>
<text class="t" transform="translate(947,1048) rotate(-90)" textLength="155" lengthAdjust="spacingAndGlyphs">INSCRIPCION O</text>
<text class="t" transform="translate(964.5,1053) rotate(-90)" textLength="146" lengthAdjust="spacingAndGlyphs">SEGREGACION</text>
</g>
<g id="n-inscripcion">
<rect class="bx" x="1005" y="964" width="59" height="173"/>
<text class="t" transform="translate(1022.5,1054) rotate(-90)" textLength="129" lengthAdjust="spacingAndGlyphs">INSCRIPCION</text>
<text class="t" transform="translate(1043,1053) rotate(-90)" textLength="136" lengthAdjust="spacingAndGlyphs">REGISTRO DE</text>
<text class="t" transform="translate(1060,1050) rotate(-90)" textLength="148" lengthAdjust="spacingAndGlyphs">LA PROPIEDAD</text>
</g>
<g id="n-desarrollos">
<rect class="bx" x="601" y="1161" width="77" height="179"/>
<path class="bx" d="M640,1161V1340"/>
<text class="t" transform="translate(619.5,1250) rotate(-90)" textLength="148" lengthAdjust="spacingAndGlyphs">DESARROLLOS</text>
<text class="t" transform="translate(635.5,1250) rotate(-90)" textLength="157" lengthAdjust="spacingAndGlyphs">PRELIMINARES</text>
<text class="t" transform="translate(657.5,1250) rotate(-90)" textLength="157" lengthAdjust="spacingAndGlyphs">URBANIZACION</text>
<text class="t" transform="translate(675,1251) rotate(-90)" textLength="136" lengthAdjust="spacingAndGlyphs">DE TERRENOS</text>
</g>
<g id="n-permurb">
<rect class="bx" x="773" y="1157" width="58" height="181"/>
<path class="bx" d="M802,1157V1338"/>
<text class="t" transform="translate(793.5,1248) rotate(-90)" textLength="124" lengthAdjust="spacingAndGlyphs">PERMISO DE</text>
<text class="t" transform="translate(821.5,1243) rotate(-90)" textLength="158" lengthAdjust="spacingAndGlyphs">URBANIZACION</text>
</g>
<g id="n-endosprelim">
<rect class="bgr" x="523" y="1310" width="59" height="159"/>
<text class="t" transform="translate(540.5,1385) rotate(-90)" textLength="100" lengthAdjust="spacingAndGlyphs">ENDOSOS</text>
<text class="t" transform="translate(558,1390) rotate(-90)" textLength="145" lengthAdjust="spacingAndGlyphs">PRELIMINARES</text>
<text class="t" transform="translate(573.5,1392) rotate(-90)" textLength="104" lengthAdjust="spacingAndGlyphs">AGENCIAS</text>
</g>
<g id="n-endosfinales">
<rect class="brd" x="702" y="1309" width="59" height="160"/>
<text class="t" transform="translate(718.5,1383) rotate(-90)" textLength="97" lengthAdjust="spacingAndGlyphs">ENDOSOS</text>
<text class="t" transform="translate(737,1386) rotate(-90)" textLength="88" lengthAdjust="spacingAndGlyphs">FINALES</text>
<text class="t" transform="translate(756,1383) rotate(-90)" textLength="105" lengthAdjust="spacingAndGlyphs">AGENCIAS</text>
</g>
<g id="n-aceptacion">
<rect class="bbl" x="914" y="1266" width="59" height="202"/>
<path d="M943,1266V1468" fill="none" stroke="#4a78e0" stroke-width="2"/>
<text class="t" transform="translate(934.5,1364) rotate(-90)" textLength="190" lengthAdjust="spacingAndGlyphs">ACEPTACION OBRAS</text>
<text class="t" transform="translate(962.5,1364) rotate(-90)" textLength="104" lengthAdjust="spacingAndGlyphs">AGENCIAS</text>
</g>
</svg>
